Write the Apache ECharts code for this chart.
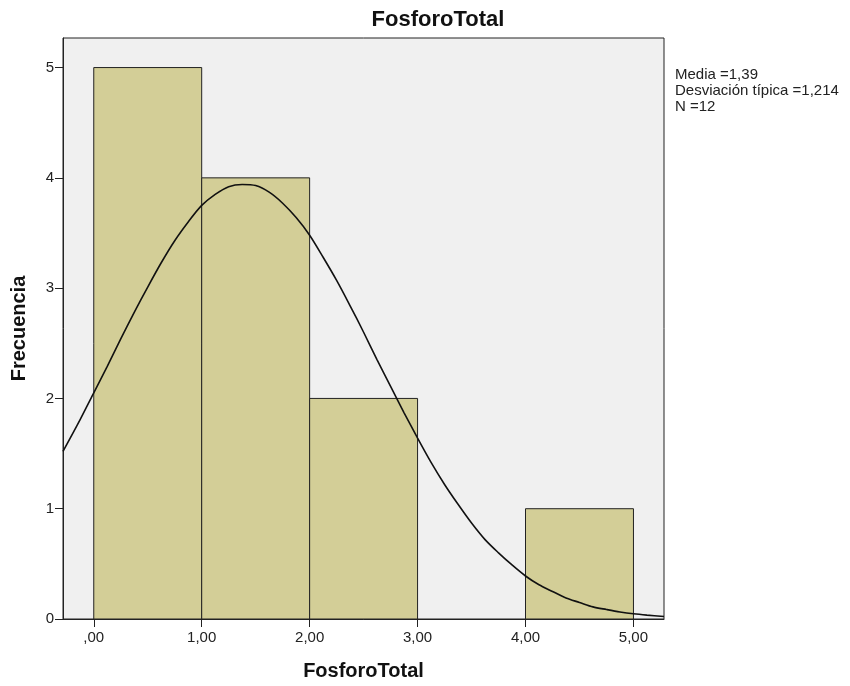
<!DOCTYPE html>
<html>
<head>
<meta charset="utf-8">
<script src="https://cdn.jsdelivr.net/npm/echarts@6/dist/echarts.min.js"></script>
<style>
  html, body { margin: 0; padding: 0; background: #fff; }
  #chart { width: 850px; height: 686px; }
</style>
</head>
<body>
<div id="chart"></div>
<script>
// histogram bins (FosforoTotal) and counts
const binStart = [0, 1, 2, 3, 4]
const binEnd = [1, 2, 3, 4, 5]
const counts = [5, 4, 2, 0, 1]

// fitted normal curve (Media 1,39, Desv. 1,214, N 12)
const curveX = [-0.285, -0.125, 0, 0.125, 0.25, 0.375, 0.5, 0.625, 0.75, 0.875, 1, 1.125, 1.25, 1.375, 1.5, 1.625, 1.75, 1.875,
  2, 2.125, 2.25, 2.375, 2.5, 2.625, 2.75, 2.875, 3, 3.125, 3.25, 3.375, 3.5, 3.625, 3.75, 3.875,
  4, 4.125, 4.25, 4.375, 4.5, 4.625, 4.75, 4.875, 5, 5.125, 5.283]
const curveY = [1.52, 1.81, 2.05, 2.29, 2.54, 2.78, 3.01, 3.23, 3.43, 3.60, 3.75, 3.85, 3.92, 3.94, 3.93, 3.87, 3.77, 3.64,
  3.48, 3.28, 3.07, 2.84, 2.60, 2.35, 2.11, 1.87, 1.64, 1.42, 1.22, 1.04, 0.87, 0.72, 0.60, 0.49,
  0.39, 0.31, 0.25, 0.19, 0.15, 0.11, 0.086, 0.064, 0.047, 0.035, 0.023]

const xTicks = [0, 1, 2, 3, 4, 5]
const xTickLabels = [',00', '1,00', '2,00', '3,00', '4,00', '5,00']
const yTicks = [0, 1, 2, 3, 4, 5]
const statLines = ['Media =1,39', 'Desviación típica =1,214', 'N =12']

const FONT = '"Liberation Sans", Arial, sans-serif'
const INK = '#222'

const chart = echarts.init(document.getElementById('chart'), null, { renderer: 'canvas' })

chart.setOption({
  animation: false,
  backgroundColor: '#fff',
  textStyle: { fontFamily: FONT },
  grid: {
    left: 63, top: 38, right: 186, bottom: 63,
    show: true, backgroundColor: '#f0f0f0', borderColor: INK, borderWidth: 1
  },
  xAxis: {
    type: 'value', min: -0.285, max: 5.283,
    splitLine: { show: false },
    axisLine: { show: true, onZero: false, lineStyle: { color: INK, width: 1 } },
    axisTick: { show: true, customValues: xTicks, length: 8, lineStyle: { color: INK } },
    axisLabel: {
      customValues: xTicks, margin: 11, color: INK, fontSize: 15, fontFamily: FONT,
      formatter: v => xTickLabels[xTicks.indexOf(Math.round(v))]
    },
    name: 'FosforoTotal', nameLocation: 'middle', nameGap: 42,
    nameTextStyle: { fontSize: 20, fontWeight: 'bold', color: '#111', fontFamily: FONT }
  },
  yAxis: {
    type: 'value', min: 0, max: 5.268,
    splitLine: { show: false },
    axisLine: { show: true, onZero: false, lineStyle: { color: INK, width: 1 } },
    axisTick: { show: true, customValues: yTicks, length: 8, lineStyle: { color: INK } },
    axisLabel: { customValues: yTicks, margin: 9, color: INK, fontSize: 15, fontFamily: FONT },
    name: 'Frecuencia', nameLocation: 'middle', nameGap: 34,
    nameTextStyle: { fontSize: 20, fontWeight: 'bold', color: '#111', fontFamily: FONT }
  },
  graphic: [
    {
      type: 'text', x: 438, y: 20,
      style: {
        text: 'FosforoTotal', font: 'bold 22px ' + FONT, fill: '#111',
        textAlign: 'center', textVerticalAlign: 'middle'
      }
    },
    {
      type: 'text', x: 675, y: 67,
      style: {
        text: statLines.join('\n'), font: '15px ' + FONT, fill: INK, lineHeight: 16,
        textAlign: 'left', textVerticalAlign: 'top'
      }
    }
  ],
  series: [
    {
      type: 'custom',
      data: binStart.map((s, i) => [s, binEnd[i], counts[i]]),
      encode: { x: [0, 1], y: 2 },
      renderItem: (params, api) => {
        if (!api.value(2)) return null
        const tl = api.coord([api.value(0), api.value(2)])
        const br = api.coord([api.value(1), 0])
        return {
          type: 'rect',
          shape: { x: tl[0], y: tl[1], width: br[0] - tl[0], height: br[1] - tl[1] },
          style: { fill: '#d3ce97', stroke: INK, lineWidth: 1 }
        }
      },
      z: 2
    },
    {
      type: 'line',
      data: curveX.map((x, i) => [x, curveY[i]]),
      smooth: 0.3, showSymbol: false, symbol: 'none',
      lineStyle: { color: '#111', width: 1.6 },
      z: 3
    }
  ]
})
</script>
</body>
</html>
